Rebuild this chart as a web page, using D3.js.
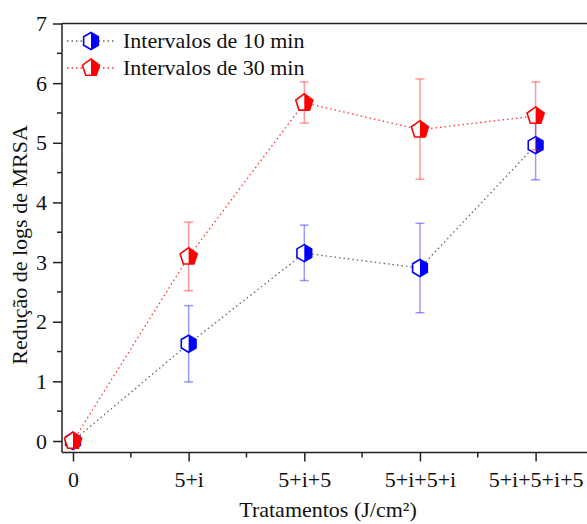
<!DOCTYPE html>
<html>
<head>
<meta charset="utf-8">
<script src="https://cdn.jsdelivr.net/npm/d3@7"></script>
<style>
  body { margin: 0; background: #fff; }
  text { font-family: "Liberation Serif", "Times New Roman", serif; }
</style>
</head>
<body>
<div class="chart"></div>
<script>
// Categories and series values
const categories = ["0", "5+i", "5+i+5", "5+i+5+i", "5+i+5+i+5"];
const series10 = [0, 1.63, 3.15, 2.9, 4.96];
const lower10 = [0, 0.99, 2.69, 2.15, 4.38];
const upper10 = [0, 2.27, 3.62, 3.65, 5.55];
const series30 = [0, 3.09, 5.67, 5.22, 5.45];
const lower30 = [0, 2.52, 5.33, 4.39, 4.88];
const upper30 = [0, 3.67, 6.02, 6.07, 6.02];
const legendLabels = ["Intervalos de 10 min", "Intervalos de 30 min"];
const yTicks = [0, 1, 2, 3, 4, 5, 6, 7];

const W = 587, H = 524;
const svg = d3.select(".chart").append("svg")
  .attr("width", W).attr("height", H);

// scales
const x = d3.scaleLinear().domain([-0.095, 4.6]).range([62, 605]);
const y = d3.scaleLinear().domain([0, 7]).range([441, 23.5]);
const bottomY = 452.5;

// frame: top line
svg.append("line")
  .attr("x1", 62).attr("x2", 605)
  .attr("y1", y(7)).attr("y2", y(7))
  .attr("stroke", "#222").attr("stroke-width", 1.5);

// Y axis
const yAxis = svg.append("g")
  .attr("transform", "translate(62,0)")
  .call(d3.axisLeft(y).tickValues(yTicks).tickFormat(d3.format("d"))
    .tickSize(9).tickSizeOuter(0).tickPadding(6));
yAxis.select(".domain").attr("stroke", "#222").attr("stroke-width", 1.5)
  .attr("d", `M0,${y(7)}V${bottomY}`);
yAxis.selectAll(".tick line").attr("stroke", "#222").attr("stroke-width", 1.5);
yAxis.selectAll(".tick text").attr("font-size", 22).attr("fill", "#111")
  .attr("font-family", "Liberation Serif");
// minor y ticks
svg.append("g").selectAll("line")
  .data(d3.range(0.5, 7, 1))
  .join("line")
  .attr("x1", 57).attr("x2", 62)
  .attr("y1", d => y(d)).attr("y2", d => y(d))
  .attr("stroke", "#222").attr("stroke-width", 1.5);

// X axis
const xAxis = svg.append("g")
  .attr("transform", `translate(0,${bottomY})`)
  .call(d3.axisBottom(x).tickValues(d3.range(categories.length))
    .tickFormat(i => categories[i]).tickSize(9).tickSizeOuter(0).tickPadding(10));
xAxis.select(".domain").attr("stroke", "#222").attr("stroke-width", 1.5)
  .attr("d", "M62,0H605");
xAxis.selectAll(".tick line").attr("stroke", "#222").attr("stroke-width", 1.5);
xAxis.selectAll(".tick text").attr("font-size", 22).attr("fill", "#111")
  .attr("font-family", "Liberation Serif");
// minor x ticks
svg.append("g").selectAll("line")
  .data(d3.range(0.5, 4.6, 1))
  .join("line")
  .attr("x1", d => x(d)).attr("x2", d => x(d))
  .attr("y1", bottomY).attr("y2", bottomY + 5)
  .attr("stroke", "#222").attr("stroke-width", 1.5);

// axis titles
svg.append("text")
  .attr("transform", "translate(27,245) rotate(-90)")
  .attr("text-anchor", "middle")
  .attr("font-size", 22).attr("fill", "#111")
  .text("Redução de logs de MRSA");
svg.append("text")
  .attr("x", 328).attr("y", 517)
  .attr("text-anchor", "middle")
  .attr("font-size", 22).attr("fill", "#111")
  .text("Tratamentos (J/cm²)");

// marker shapes
function polyPoints(n, r, startDeg) {
  return d3.range(n).map(k => {
    const a = (startDeg + k * 360 / n) * Math.PI / 180;
    return [r * Math.cos(a), r * Math.sin(a)];
  });
}
const hexPts = polyPoints(6, 8.5, -90);
const pentPts = polyPoints(5, 9, -90);

svg.append("defs").append("clipPath").attr("id", "rhalf")
  .append("rect").attr("x", 0).attr("y", -20).attr("width", 20).attr("height", 40);

function drawMarker(g, pts, color) {
  const d = "M" + pts.map(p => p.join(",")).join("L") + "Z";
  g.append("path").attr("d", d).attr("fill", "#fff");
  g.append("path").attr("d", d).attr("fill", color).attr("clip-path", "url(#rhalf)");
  g.append("path").attr("d", d).attr("fill", "none")
    .attr("stroke", color).attr("stroke-width", 1.6);
}

const seriesList = [
  { vals: series10, lo: lower10, hi: upper10, color: "#0000ff", line: "#666", pts: hexPts },
  { vals: series30, lo: lower30, hi: upper30, color: "#ff0000", line: "#ff3333", pts: pentPts }
];

const lineGen = d3.line().x((d, i) => x(i)).y(d => y(d));

seriesList.forEach(s => {
  // error bars
  const eb = svg.append("g").attr("stroke", s.color).attr("stroke-opacity", 0.4)
    .attr("stroke-width", 1.5);
  s.vals.forEach((v, i) => {
    if (s.hi[i] === s.lo[i]) return;
    eb.append("line").attr("x1", x(i)).attr("x2", x(i))
      .attr("y1", y(s.lo[i])).attr("y2", y(s.hi[i]));
    [s.lo[i], s.hi[i]].forEach(e => {
      eb.append("line").attr("x1", x(i) - 4.5).attr("x2", x(i) + 4.5)
        .attr("y1", y(e)).attr("y2", y(e));
    });
  });
  // dotted line
  svg.append("path").datum(s.vals)
    .attr("d", lineGen)
    .attr("fill", "none")
    .attr("stroke", s.line)
    .attr("stroke-width", 1.3)
    .attr("stroke-dasharray", "1.5,3");
  // markers
  s.vals.forEach((v, i) => {
    const g = svg.append("g").attr("transform", `translate(${x(i)},${y(v)})`);
    drawMarker(g, s.pts, s.color);
  });
});

// legend
const legendY = [41, 68];
seriesList.forEach((s, k) => {
  svg.append("line")
    .attr("x1", 67).attr("x2", 116)
    .attr("y1", legendY[k]).attr("y2", legendY[k])
    .attr("stroke", s.line).attr("stroke-width", 1.3)
    .attr("stroke-dasharray", "1.5,3");
  const g = svg.append("g").attr("transform", `translate(91,${legendY[k]})`);
  drawMarker(g, s.pts, s.color);
  svg.append("text")
    .attr("x", 123).attr("y", legendY[k] + 7)
    .attr("font-size", 22).attr("fill", "#111")
    .text(legendLabels[k]);
});
</script>
</body>
</html>
